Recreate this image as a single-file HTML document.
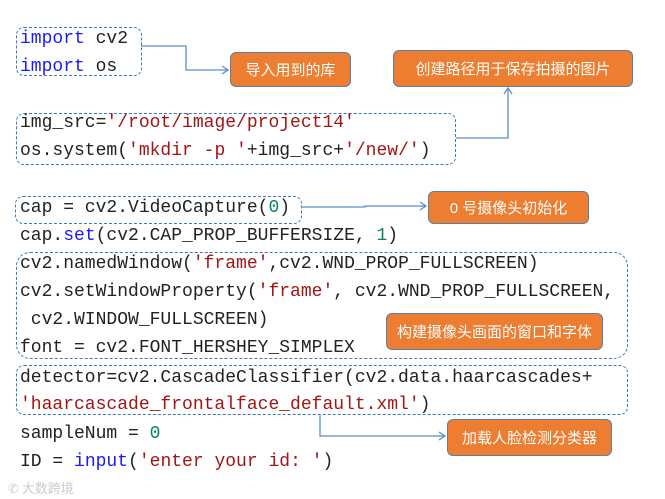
<!DOCTYPE html>
<html><head><meta charset="utf-8"><style>
body{margin:0;width:665px;height:499px;background:#fff;position:relative;overflow:hidden;font-family:"Liberation Mono",monospace}
.l{position:absolute;left:20px;font-size:18px;line-height:20px;color:#222;white-space:pre}
.k{color:#1a1aff}.s{color:#a31515}.n{color:#098658}
.d{position:absolute;border:1.5px dashed #3a78b5;border-radius:8px}
.o{position:absolute;background:#ed7d31;border:1.5px solid #5a80a8;border-radius:6px;color:#fff;font-family:"Liberation Sans","Noto Sans CJK SC",sans-serif;font-size:15px;display:flex;align-items:center;justify-content:center}
svg{position:absolute;left:0;top:0}
</style></head><body>
<div class="d" style="left:16px;top:27px;width:124px;height:47px"></div>
<div class="d" style="left:16px;top:113px;width:438px;height:50px"></div>
<div class="d" style="left:15px;top:196px;width:285px;height:26px"></div>
<div class="d" style="left:16px;top:252px;width:610px;height:105px;border-radius:14px"></div>
<div class="d" style="left:16px;top:365px;width:610px;height:48px"></div>

<div class="l" style="top:29px"><span class="k">import</span> cv2</div>
<div class="l" style="top:57px"><span class="k">import</span> os</div>
<div class="l" style="top:113px">img_src=<span class="s">'/root/image/project14'</span></div>
<div class="l" style="top:141px">os.system(<span class="s">'mkdir -p '</span>+img_src+<span class="s">'/new/'</span>)</div>
<div class="l" style="top:198px">cap = cv2.VideoCapture(<span class="n">0</span>)</div>
<div class="l" style="top:226px">cap.<span class="k">set</span>(cv2.CAP_PROP_BUFFERSIZE, <span class="n">1</span>)</div>
<div class="l" style="top:254px">cv2.namedWindow(<span class="s">'frame'</span>,cv2.WND_PROP_FULLSCREEN)</div>
<div class="l" style="top:282px">cv2.setWindowProperty(<span class="s">'frame'</span>, cv2.WND_PROP_FULLSCREEN,</div>
<div class="l" style="top:310px"> cv2.WINDOW_FULLSCREEN)</div>
<div class="l" style="top:338px">font = cv2.FONT_HERSHEY_SIMPLEX</div>
<div class="l" style="top:368px">detector=cv2.CascadeClassifier(cv2.data.haarcascades+</div>
<div class="l" style="top:395px"><span class="s">'haarcascade_frontalface_default.xml'</span>)</div>
<div class="l" style="top:424px">sampleNum = <span class="n">0</span></div>
<div class="l" style="top:452px">ID = <span class="k">input</span>(<span class="s">'enter your id: '</span>)</div>

<div class="o" style="left:230px;top:52px;width:119px;height:33px">导入用到的库</div>
<div class="o" style="left:393px;top:50px;width:238px;height:35px">创建路径用于保存拍摄的图片</div>
<div class="o" style="left:428px;top:191px;width:159px;height:31px">0 号摄像头初始化</div>
<div class="o" style="left:386px;top:313px;width:215px;height:35px">构建摄像头画面的窗口和字体</div>
<div class="o" style="left:447px;top:419px;width:163px;height:35px">加载人脸检测分类器</div>

<svg width="665" height="499" fill="none" stroke="#5b8fc7" stroke-width="1.3">
<path d="M141 46H186V70H228M222 66L228 70L222 74"/>
<path d="M456 138H508V88M504 94L508 88L512 94"/>
<path d="M301 207H365V206H426M420 202L426 206L420 210"/>
<path d="M320 414V436H445M439 432L445 436L439 440"/>
</svg>
<div style="position:absolute;left:8px;top:478px;font-family:'Noto Sans CJK SC',sans-serif;font-size:13px;color:#ccc">✆ 大数跨境</div>
</body></html>
